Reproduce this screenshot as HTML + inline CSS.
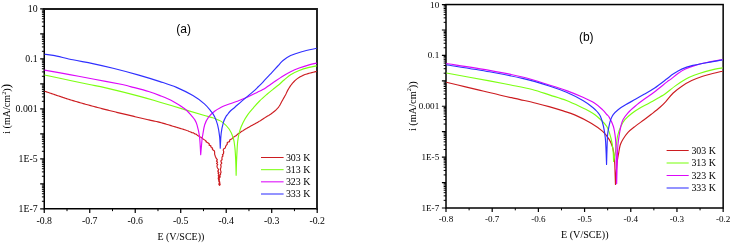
<!DOCTYPE html>
<html><head><meta charset="utf-8"><title>Polarization curves</title>
<style>html,body{margin:0;padding:0;background:#fff}svg{display:block}</style></head>
<body>
<svg width="731" height="243" viewBox="0 0 731 243">
<rect width="731" height="243" fill="#fff"/>
<g stroke="#000" stroke-width="1.5" fill="none" stroke-linecap="butt">
<path d="M44.25,8.10V208.8H317.95" stroke-linejoin="miter"/>
<path stroke="#1c1c1c" stroke-width="1.9" d="M43.50,9.05H317.00V209.55" stroke-linejoin="miter"/>
<path stroke-width="1.2" d="M40.15,8.85H44.25M40.15,33.84H44.25M40.15,58.84H44.25M40.15,83.83H44.25M40.15,108.83H44.25M40.15,133.82H44.25M40.15,158.81H44.25M40.15,183.81H44.25M40.15,208.80H44.25M44.25,208.8V212.90M89.74,208.8V212.90M135.23,208.8V212.90M180.72,208.8V212.90M226.22,208.8V212.90M271.71,208.8V212.90M317.20,208.8V212.90"/>
<path stroke-width="1.0" d="M41.90,26.32H44.25M41.90,21.92H44.25M41.90,18.80H44.25M41.90,16.37H44.25M41.90,14.39H44.25M41.90,12.72H44.25M41.90,11.27H44.25M41.90,9.99H44.25M41.90,51.31H44.25M41.90,46.91H44.25M41.90,43.79H44.25M41.90,41.37H44.25M41.90,39.39H44.25M41.90,37.72H44.25M41.90,36.27H44.25M41.90,34.99H44.25M41.90,76.31H44.25M41.90,71.91H44.25M41.90,68.78H44.25M41.90,66.36H44.25M41.90,64.38H44.25M41.90,62.71H44.25M41.90,61.26H44.25M41.90,59.98H44.25M41.90,101.30H44.25M41.90,96.90H44.25M41.90,93.78H44.25M41.90,91.36H44.25M41.90,89.38H44.25M41.90,87.70H44.25M41.90,86.25H44.25M41.90,84.97H44.25M41.90,126.29H44.25M41.90,121.89H44.25M41.90,118.77H44.25M41.90,116.35H44.25M41.90,114.37H44.25M41.90,112.70H44.25M41.90,111.25H44.25M41.90,109.97H44.25M41.90,151.29H44.25M41.90,146.89H44.25M41.90,143.76H44.25M41.90,141.34H44.25M41.90,139.36H44.25M41.90,137.69H44.25M41.90,136.24H44.25M41.90,134.96H44.25M41.90,176.28H44.25M41.90,171.88H44.25M41.90,168.76H44.25M41.90,166.34H44.25M41.90,164.36H44.25M41.90,162.68H44.25M41.90,161.23H44.25M41.90,159.96H44.25M41.90,201.28H44.25M41.90,196.87H44.25M41.90,193.75H44.25M41.90,191.33H44.25M41.90,189.35H44.25M41.90,187.68H44.25M41.90,186.23H44.25M41.90,184.95H44.25M67.00,208.8V211.15M112.49,208.8V211.15M157.98,208.8V211.15M203.47,208.8V211.15M248.96,208.8V211.15M294.45,208.8V211.15"/>
</g>
<g font-family="'Liberation Serif','Times New Roman',serif" font-size="9.8" fill="#000">
<text x="37.60" y="12.08" text-anchor="end">10</text>
<text x="37.60" y="62.07" text-anchor="end">0.1</text>
<text x="37.60" y="112.06" text-anchor="end">0.001</text>
<text x="37.60" y="162.05" text-anchor="end">1E-5</text>
<text x="37.60" y="212.03" text-anchor="end">1E-7</text>
<text x="44.25" y="223.50" text-anchor="middle">-0.8</text>
<text x="89.74" y="223.50" text-anchor="middle">-0.7</text>
<text x="135.23" y="223.50" text-anchor="middle">-0.6</text>
<text x="180.72" y="223.50" text-anchor="middle">-0.5</text>
<text x="226.22" y="223.50" text-anchor="middle">-0.4</text>
<text x="271.71" y="223.50" text-anchor="middle">-0.3</text>
<text x="317.20" y="223.50" text-anchor="middle">-0.2</text>
</g>
<g font-family="'Liberation Serif','Times New Roman',serif" font-size="10" fill="#000">
<text x="157.40" y="240.20">E (V/SCE))</text>
<text transform="translate(10.40,108.90) rotate(-90)" text-anchor="middle" font-size="10.1">i (mA/cm<tspan font-size="6.26" dy="-4.24">2</tspan><tspan dy="4.24">)</tspan><tspan font-size="13">)</tspan></text>
</g>
<g fill="none" stroke-width="1.15" stroke-linejoin="round" stroke-linecap="butt">
<path stroke="#cc1c20" d="M44.50,91.20L45.51,91.54L46.53,91.88L47.54,92.23L48.58,92.58L49.62,92.94L50.66,93.30L51.70,93.65L52.69,93.99L53.68,94.33L54.66,94.66L55.65,95.00L56.64,95.34L57.72,95.70L58.81,96.06L59.89,96.42L60.97,96.79L62.05,97.15L63.15,97.51L64.26,97.87L65.37,98.23L66.47,98.59L67.58,98.95L68.64,99.28L69.71,99.61L70.77,99.94L71.84,100.27L72.90,100.60L73.93,100.90L74.95,101.21L75.98,101.51L77.00,101.81L78.03,102.11L79.07,102.41L80.11,102.71L81.15,103.00L82.19,103.30L83.23,103.60L84.29,103.89L85.36,104.19L86.42,104.48L87.49,104.77L88.55,105.07L89.65,105.36L90.75,105.66L91.85,105.96L92.95,106.25L94.05,106.55L95.20,106.85L96.34,107.15L97.49,107.45L98.64,107.75L99.78,108.05L100.79,108.31L101.79,108.57L102.79,108.83L103.79,109.08L104.80,109.34L105.80,109.60L106.92,109.88L108.04,110.16L109.16,110.44L110.28,110.72L111.39,111.00L112.51,111.28L113.58,111.54L114.64,111.80L115.71,112.06L116.77,112.32L117.83,112.57L118.90,112.83L119.96,113.09L121.06,113.36L122.16,113.62L123.25,113.88L124.35,114.14L125.45,114.41L126.55,114.67L127.64,114.93L128.70,115.18L129.76,115.43L130.82,115.68L131.87,115.93L132.93,116.18L133.99,116.43L135.05,116.69L136.15,116.95L137.26,117.21L138.36,117.46L139.46,117.72L140.57,117.98L141.67,118.24L142.74,118.50L143.80,118.75L144.87,119.00L145.93,119.25L147.00,119.50L147.94,119.72L148.88,119.93L149.82,120.15L150.76,120.37L152.03,120.64L153.29,120.91L154.17,121.09L155.04,121.26L156.45,121.54L157.96,121.88L158.98,122.14L160.00,122.40L161.29,122.75L162.59,123.11L163.51,123.38L164.44,123.64L165.37,123.91L166.33,124.20L167.28,124.48L168.24,124.77L169.20,125.06L170.16,125.35L171.12,125.64L172.05,125.93L172.98,126.22L173.91,126.50L175.20,126.90L176.50,127.30L177.71,127.67L178.92,128.03L180.08,128.38L181.24,128.73L182.35,129.06L183.46,129.40L184.53,129.74L185.60,130.07L186.59,130.44L187.92,130.75L188.63,131.17L189.38,131.50L190.62,132.00L191.16,132.17L192.02,132.78L193.35,132.81L194.40,133.63L194.98,133.86L195.37,133.97L196.47,134.39L196.95,134.91L197.57,135.46L198.69,136.12L199.52,136.48L200.25,137.00L200.96,137.28L202.23,138.25L202.82,138.62L203.00,138.90L203.68,139.36L204.88,140.14L205.65,140.71L206.43,141.59L205.95,141.71L208.20,142.98L209.35,143.94L209.11,145.09L210.88,145.75L210.70,146.76L212.67,148.14L212.13,148.77L212.75,149.74L214.45,151.03L214.65,152.51L214.61,154.05L215.00,155.31L215.41,156.53L215.93,157.89L217.40,159.95L216.50,160.84L216.48,161.21L217.58,162.28L216.54,163.45L216.82,163.64L217.79,164.57L217.17,165.22L216.97,166.58L217.32,167.53L217.64,168.33L218.67,169.35L218.19,170.71L217.70,171.07L218.94,172.70L218.03,173.12L218.89,174.82L218.15,175.77L219.31,176.40L218.69,176.78L218.19,178.43L218.66,179.75L218.83,181.34L219.48,182.23L218.94,183.84L218.87,184.39L219.60,185.40L219.60,185.40L220.23,184.26L219.79,183.56L219.73,182.08L219.26,180.99L219.38,179.51L219.17,177.62L220.28,177.07L220.04,176.50L219.88,174.91L220.61,174.43L220.50,173.44L221.06,172.18L220.83,171.16L220.63,170.40L220.33,168.88L220.67,168.48L220.94,167.34L221.12,166.21L220.61,164.74L221.80,163.14L220.94,161.65L221.05,160.49L222.10,159.72L221.94,158.08L222.08,156.85L223.02,155.97L222.41,154.52L223.41,154.08L223.68,152.69L223.47,152.39L223.76,151.53L223.30,150.74L223.34,149.45L223.56,149.03L224.85,148.36L225.43,147.48L225.56,146.58L226.42,145.11L227.34,144.16L227.08,142.95L228.20,142.06L229.59,141.61L229.71,140.09L231.02,139.22L232.08,138.69L232.92,137.52L234.75,136.57L234.90,136.31L235.98,135.81L236.57,135.04L237.28,134.73L237.99,133.90L238.47,133.45L239.64,132.98L240.27,132.55L240.81,131.91L241.82,131.32L243.05,130.63L244.01,130.00L244.70,129.59L245.45,129.02L246.64,128.39L247.68,127.78L248.83,127.13L249.98,126.49L251.17,125.83L252.37,125.17L253.55,124.53L254.72,123.89L255.82,123.28L256.91,122.68L257.85,122.14L258.80,121.60L259.59,121.12L260.38,120.65L261.76,119.78L262.97,118.99L264.05,118.27L265.05,117.61L266.00,117.00L266.85,116.49L267.54,116.11L268.16,115.78L268.74,115.46L269.37,115.08L270.10,114.60L270.96,113.99L271.90,113.31L272.88,112.57L273.85,111.80L274.77,111.04L275.60,110.30L276.33,109.60L276.99,108.91L277.60,108.23L278.18,107.53L278.74,106.79L279.30,106.00L279.85,105.14L280.38,104.23L280.89,103.27L281.39,102.31L281.89,101.34L282.40,100.40L282.92,99.48L283.45,98.55L283.98,97.63L284.50,96.71L285.01,95.80L285.50,94.90L285.95,94.01L286.36,93.13L286.76,92.25L287.17,91.37L287.61,90.49L288.10,89.60L288.64,88.69L289.21,87.76L289.81,86.83L290.44,85.90L291.10,84.99L291.80,84.10L292.53,83.22L293.30,82.35L294.09,81.49L294.93,80.65L295.79,79.85L296.70,79.10L297.66,78.39L298.67,77.71L299.72,77.07L300.79,76.47L301.85,75.91L302.90,75.40L303.92,74.96L304.91,74.57L305.91,74.24L306.93,73.93L307.99,73.62L309.10,73.30L310.37,72.95L311.81,72.58L313.29,72.22L314.68,71.89L315.86,71.60L316.70,71.40"/>
<path stroke="#7cff12" d="M44.50,75.00C48.42,75.83 60.52,78.42 68.00,80.00C75.48,81.58 83.10,83.18 89.40,84.50C95.70,85.82 97.57,85.97 105.80,87.90C114.03,89.83 129.77,93.72 138.80,96.10C147.83,98.48 152.35,99.95 160.00,102.20C167.65,104.45 177.57,107.47 184.70,109.60C191.83,111.73 198.13,113.65 202.80,115.00C207.47,116.35 210.33,116.95 212.70,117.70C215.07,118.45 215.35,118.72 217.00,119.50C218.65,120.28 220.58,120.82 222.60,122.40C224.62,123.98 227.32,126.40 229.10,129.00C230.88,131.60 232.33,134.85 233.30,138.00C234.27,141.15 234.50,144.23 234.90,147.90C235.30,151.57 235.49,155.43 235.70,160.00C235.91,164.57 236.07,172.75 236.15,175.30C236.22,172.75 236.34,165.67 236.60,160.00C236.86,154.33 237.17,146.20 237.70,141.30C238.23,136.40 238.90,133.75 239.80,130.60C240.70,127.45 241.77,125.07 243.10,122.40C244.43,119.73 246.08,117.03 247.80,114.60C249.52,112.17 251.43,110.07 253.40,107.80C255.37,105.53 257.33,103.25 259.60,101.00C261.87,98.75 264.82,96.20 267.00,94.30C269.18,92.40 270.83,91.10 272.70,89.60C274.57,88.10 276.25,86.93 278.20,85.30C280.15,83.67 282.33,81.55 284.40,79.80C286.47,78.05 288.13,76.35 290.60,74.80C293.07,73.25 296.12,71.73 299.20,70.50C302.28,69.27 306.18,68.17 309.10,67.40C312.02,66.63 315.43,66.15 316.70,65.90"/>
<path stroke="#dc08fa" d="M44.50,70.10C48.68,70.85 61.30,73.08 69.60,74.60C77.90,76.12 85.52,77.55 94.30,79.20C103.08,80.85 116.27,83.27 122.30,84.50C128.33,85.73 126.12,85.43 130.50,86.60C134.88,87.77 143.68,90.00 148.60,91.50C153.52,93.00 155.90,93.95 160.00,95.60C164.10,97.25 169.08,99.20 173.20,101.40C177.32,103.60 181.68,106.47 184.70,108.80C187.72,111.13 189.65,113.62 191.30,115.40C192.95,117.18 193.65,117.92 194.60,119.50C195.55,121.08 196.18,122.08 197.00,124.90C197.82,127.72 198.88,131.45 199.50,136.40C200.12,141.35 200.50,151.57 200.70,154.60C200.92,152.17 201.65,143.33 202.00,140.00C202.35,136.67 202.35,137.14 202.80,134.60C203.25,132.06 203.77,127.63 204.70,124.75C205.63,121.87 206.75,119.56 208.40,117.30C210.05,115.04 212.55,112.83 214.60,111.20C216.65,109.57 218.72,108.53 220.70,107.50C222.68,106.47 223.73,106.05 226.50,105.00C229.27,103.95 233.85,102.48 237.30,101.20C240.75,99.92 243.90,98.77 247.20,97.30C250.50,95.83 254.50,93.68 257.10,92.40C259.70,91.12 260.32,91.08 262.80,89.60C265.28,88.12 268.82,85.65 272.00,83.50C275.18,81.35 278.80,78.67 281.90,76.70C285.00,74.73 287.72,73.15 290.60,71.70C293.48,70.25 296.12,69.13 299.20,68.00C302.28,66.87 306.18,65.72 309.10,64.90C312.02,64.08 315.43,63.40 316.70,63.10"/>
<path stroke="#3030ff" d="M44.50,54.30C45.95,54.48 48.47,54.48 53.20,55.40C57.93,56.32 66.32,58.43 72.90,59.80C79.48,61.17 85.83,62.15 92.70,63.60C99.57,65.05 106.42,66.58 114.10,68.50C121.78,70.42 131.15,72.92 138.80,75.10C146.45,77.28 153.72,79.55 160.00,81.60C166.28,83.65 171.02,85.07 176.50,87.40C181.98,89.73 188.25,92.85 192.90,95.60C197.55,98.35 201.38,101.28 204.40,103.90C207.42,106.52 209.32,109.20 211.00,111.30C212.68,113.40 213.40,114.23 214.50,116.50C215.60,118.77 216.75,121.58 217.60,124.90C218.45,128.22 219.16,132.53 219.60,136.40C220.04,140.27 220.14,146.15 220.25,148.10C220.41,145.60 220.67,137.38 221.20,133.10C221.72,128.82 222.60,125.17 223.40,122.40C224.20,119.63 225.32,117.80 226.00,116.50C226.68,115.20 226.85,115.43 227.50,114.60C228.15,113.77 228.67,112.73 229.90,111.50C231.13,110.27 232.42,109.35 234.90,107.20C237.38,105.05 241.72,101.23 244.80,98.60C247.88,95.97 251.12,93.42 253.40,91.40C255.68,89.38 256.83,88.13 258.50,86.50C260.17,84.87 261.15,83.97 263.40,81.60C265.65,79.23 270.15,74.30 272.00,72.30C273.85,70.30 273.27,70.93 274.50,69.60C275.73,68.27 277.98,65.82 279.40,64.30C280.82,62.78 281.13,61.95 283.00,60.50C284.87,59.05 287.48,57.07 290.60,55.60C293.72,54.13 297.35,52.92 301.70,51.70C306.05,50.48 314.20,48.87 316.70,48.30"/>
</g>
<g stroke-width="1.05" fill="none">
<path stroke="#cc1c20" d="M261.0,157.5H283.6"/>
<path stroke="#7cff12" d="M261.0,169.67H283.6"/>
<path stroke="#dc08fa" d="M261.0,181.83H283.6"/>
<path stroke="#3030ff" d="M261.0,194.0H283.6"/>
</g>
<g font-family="'Liberation Serif','Times New Roman',serif" font-size="9.9" fill="#000">
<text x="285.9" y="160.77">303 K</text>
<text x="285.9" y="172.94">313 K</text>
<text x="285.9" y="185.10">323 K</text>
<text x="285.9" y="197.27">333 K</text>
</g>
<text x="176.3" y="32.6" font-family="'Liberation Sans',Arial,sans-serif" font-size="12" fill="#000">(a)</text>
<g stroke="#000" stroke-width="1.5" fill="none" stroke-linecap="butt">
<rect x="446.0" y="4.55" width="277.15" height="203.45"/>
<path stroke-width="1.2" d="M441.90,4.55H446.0M441.90,29.98H446.0M441.90,55.41H446.0M441.90,80.84H446.0M441.90,106.27H446.0M441.90,131.71H446.0M441.90,157.14H446.0M441.90,182.57H446.0M441.90,208.00H446.0M446.00,208.0V212.10M492.19,208.0V212.10M538.38,208.0V212.10M584.58,208.0V212.10M630.77,208.0V212.10M676.96,208.0V212.10M723.15,208.0V212.10"/>
<path stroke-width="1.0" d="M443.65,22.33H446.0M443.65,17.85H446.0M443.65,14.67H446.0M443.65,12.21H446.0M443.65,10.19H446.0M443.65,8.49H446.0M443.65,7.01H446.0M443.65,5.71H446.0M443.65,47.76H446.0M443.65,43.28H446.0M443.65,40.10H446.0M443.65,37.64H446.0M443.65,35.62H446.0M443.65,33.92H446.0M443.65,32.45H446.0M443.65,31.14H446.0M443.65,73.19H446.0M443.65,68.71H446.0M443.65,65.53H446.0M443.65,63.07H446.0M443.65,61.05H446.0M443.65,59.35H446.0M443.65,57.88H446.0M443.65,56.58H446.0M443.65,98.62H446.0M443.65,94.14H446.0M443.65,90.96H446.0M443.65,88.50H446.0M443.65,86.49H446.0M443.65,84.78H446.0M443.65,83.31H446.0M443.65,82.01H446.0M443.65,124.05H446.0M443.65,119.57H446.0M443.65,116.40H446.0M443.65,113.93H446.0M443.65,111.92H446.0M443.65,110.21H446.0M443.65,108.74H446.0M443.65,107.44H446.0M443.65,149.48H446.0M443.65,145.00H446.0M443.65,141.83H446.0M443.65,139.36H446.0M443.65,137.35H446.0M443.65,135.65H446.0M443.65,134.17H446.0M443.65,132.87H446.0M443.65,174.91H446.0M443.65,170.43H446.0M443.65,167.26H446.0M443.65,164.79H446.0M443.65,162.78H446.0M443.65,161.08H446.0M443.65,159.60H446.0M443.65,158.30H446.0M443.65,200.34H446.0M443.65,195.87H446.0M443.65,192.69H446.0M443.65,190.22H446.0M443.65,188.21H446.0M443.65,186.51H446.0M443.65,185.03H446.0M443.65,183.73H446.0M469.10,208.0V210.35M515.29,208.0V210.35M561.48,208.0V210.35M607.67,208.0V210.35M653.86,208.0V210.35M700.05,208.0V210.35"/>
</g>
<g font-family="'Liberation Serif','Times New Roman',serif" font-size="9.1" fill="#000">
<text x="439.20" y="7.55" text-anchor="end">10</text>
<text x="439.20" y="58.42" text-anchor="end">0.1</text>
<text x="439.20" y="109.28" text-anchor="end">0.001</text>
<text x="439.20" y="160.14" text-anchor="end">1E-5</text>
<text x="439.20" y="211.00" text-anchor="end">1E-7</text>
<text x="446.00" y="222.40" text-anchor="middle">-0.8</text>
<text x="492.19" y="222.40" text-anchor="middle">-0.7</text>
<text x="538.38" y="222.40" text-anchor="middle">-0.6</text>
<text x="584.58" y="222.40" text-anchor="middle">-0.5</text>
<text x="630.77" y="222.40" text-anchor="middle">-0.4</text>
<text x="676.96" y="222.40" text-anchor="middle">-0.3</text>
<text x="723.15" y="222.40" text-anchor="middle">-0.2</text>
</g>
<g font-family="'Liberation Serif','Times New Roman',serif" font-size="10.15" fill="#000">
<text x="561.00" y="238.30">E (V/SCE))</text>
<text transform="translate(415.60,106.20) rotate(-90)" text-anchor="middle" font-size="10.3">i (mA/cm<tspan font-size="6.39" dy="-4.33">2</tspan><tspan dy="4.33">)</tspan><tspan font-size="10.3">)</tspan></text>
</g>
<g fill="none" stroke-width="1.15" stroke-linejoin="round" stroke-linecap="butt">
<path stroke="#cc1c20" d="M446.30,82.20C449.33,82.93 458.38,85.13 464.50,86.60C470.62,88.07 476.82,89.52 483.00,91.00C489.18,92.48 495.42,94.07 501.60,95.50C507.78,96.93 514.37,98.32 520.10,99.60C525.83,100.88 531.18,102.03 536.00,103.20C540.82,104.37 544.47,105.32 549.00,106.60C553.53,107.88 558.92,109.52 563.20,110.90C567.48,112.28 570.03,112.85 574.70,114.90C579.37,116.95 586.53,120.45 591.20,123.20C595.87,125.95 599.68,128.67 602.70,131.40C605.72,134.13 607.67,137.00 609.30,139.60C610.93,142.20 611.72,144.43 612.50,147.00C613.28,149.57 613.62,152.00 614.00,155.00C614.38,158.00 614.56,160.08 614.80,165.00C615.04,169.92 615.34,181.25 615.45,184.50C615.64,181.75 616.26,172.12 616.60,168.00C616.94,163.88 617.13,162.37 617.50,159.75C617.87,157.13 618.33,154.81 618.80,152.30C619.27,149.79 619.60,146.88 620.30,144.70C621.00,142.52 621.72,141.27 623.00,139.20C624.28,137.13 625.93,134.48 628.00,132.30C630.07,130.12 632.72,128.18 635.40,126.10C638.08,124.02 641.45,121.77 644.10,119.80C646.75,117.83 648.65,116.38 651.30,114.30C653.95,112.22 657.58,109.42 660.00,107.30C662.42,105.18 663.60,103.98 665.80,101.60C668.00,99.22 670.52,95.57 673.20,93.00C675.88,90.43 678.82,88.27 681.90,86.20C684.98,84.13 688.23,82.27 691.70,80.60C695.17,78.93 699.22,77.38 702.70,76.20C706.18,75.02 709.28,74.33 712.60,73.50C715.92,72.67 720.93,71.58 722.60,71.20"/>
<path stroke="#7cff12" d="M446.30,73.00C453.48,74.32 478.65,78.90 489.40,80.90C500.15,82.90 503.67,83.57 510.80,85.00C517.93,86.43 525.67,87.82 532.20,89.50C538.73,91.18 544.28,93.27 550.00,95.10C555.72,96.93 561.02,98.37 566.50,100.50C571.98,102.63 579.15,106.15 582.90,107.90C586.65,109.65 586.93,109.82 589.00,111.00C591.07,112.18 593.57,113.75 595.30,115.00C597.03,116.25 597.48,116.58 599.40,118.50C601.32,120.42 604.88,123.25 606.80,126.50C608.72,129.75 609.87,134.17 610.90,138.00C611.93,141.83 612.55,145.58 613.00,149.50C613.45,153.42 613.50,159.50 613.60,161.50C613.97,159.50 615.15,153.70 615.80,149.50C616.45,145.30 616.67,140.13 617.50,136.30C618.33,132.47 619.57,129.28 620.80,126.50C622.03,123.72 623.08,121.77 624.90,119.60C626.72,117.43 629.33,115.35 631.70,113.50C634.07,111.65 636.22,110.22 639.10,108.50C641.98,106.78 645.52,105.13 649.00,103.20C652.48,101.27 657.40,98.40 660.00,96.90C662.60,95.40 661.98,96.08 664.60,94.20C667.22,92.32 672.22,88.10 675.70,85.60C679.18,83.10 682.43,80.92 685.50,79.20C688.57,77.48 690.82,76.57 694.10,75.30C697.38,74.03 701.70,72.63 705.20,71.60C708.70,70.57 712.20,69.72 715.10,69.10C718.00,68.48 721.35,68.10 722.60,67.90"/>
<path stroke="#dc08fa" d="M446.30,63.50C453.48,64.65 476.73,68.15 489.40,70.40C502.07,72.65 512.20,74.53 522.30,77.00C532.40,79.47 542.63,82.93 550.00,85.20C557.37,87.47 561.02,88.60 566.50,90.60C571.98,92.60 578.25,95.13 582.90,97.20C587.55,99.27 591.10,100.90 594.40,103.00C597.70,105.10 600.63,107.88 602.70,109.80C604.77,111.72 605.70,113.23 606.80,114.50C607.90,115.77 608.20,115.40 609.30,117.40C610.40,119.40 612.38,123.07 613.40,126.50C614.42,129.93 614.97,134.08 615.40,138.00C615.83,141.92 615.79,142.38 616.00,150.00C616.21,157.62 616.54,178.08 616.65,183.70C616.81,178.08 617.24,157.62 617.60,150.00C617.96,142.38 618.27,141.92 618.80,138.00C619.33,134.08 620.08,129.57 620.80,126.50C621.52,123.43 621.90,121.88 623.10,119.60C624.30,117.32 625.95,115.07 628.00,112.80C630.05,110.53 632.72,108.25 635.40,106.00C638.08,103.75 640.88,101.67 644.10,99.30C647.32,96.92 650.88,94.65 654.70,91.75C658.52,88.85 664.35,83.96 667.00,81.90C669.65,79.84 668.77,80.80 670.60,79.40C672.43,78.00 675.53,75.22 678.00,73.50C680.47,71.78 682.52,70.45 685.40,69.10C688.28,67.75 691.58,66.53 695.30,65.40C699.02,64.27 703.15,63.28 707.70,62.30C712.25,61.32 720.12,59.97 722.60,59.50"/>
<path stroke="#3030ff" d="M446.30,64.80C453.48,65.97 476.73,69.53 489.40,71.80C502.07,74.07 512.20,76.00 522.30,78.40C532.40,80.80 542.63,83.88 550.00,86.20C557.37,88.52 561.02,89.92 566.50,92.30C571.98,94.68 578.52,97.97 582.90,100.50C587.28,103.03 590.45,105.67 592.80,107.50C595.15,109.33 595.72,109.98 597.00,111.50C598.28,113.02 599.42,114.10 600.50,116.60C601.58,119.10 602.70,122.93 603.50,126.50C604.30,130.07 604.88,134.17 605.30,138.00C605.72,141.83 605.79,145.10 606.00,149.50C606.21,153.90 606.46,161.92 606.55,164.40C606.62,161.92 606.83,154.45 607.00,149.50C607.17,144.55 607.22,138.82 607.60,134.70C607.98,130.58 608.78,127.32 609.30,124.80C609.82,122.28 610.05,121.28 610.70,119.60C611.35,117.92 611.97,116.34 613.20,114.70C614.43,113.06 616.03,111.40 618.10,109.75C620.17,108.10 622.72,106.54 625.60,104.80C628.48,103.06 632.32,101.05 635.40,99.30C638.48,97.55 640.88,96.18 644.10,94.30C647.32,92.42 650.88,90.58 654.70,88.00C658.52,85.42 663.93,81.12 667.00,78.80C670.07,76.48 670.65,75.72 673.10,74.10C675.55,72.48 678.40,70.55 681.70,69.10C685.00,67.65 688.98,66.42 692.90,65.40C696.82,64.38 700.25,63.92 705.20,63.00C710.15,62.08 719.70,60.42 722.60,59.90"/>
</g>
<g stroke-width="1.05" fill="none">
<path stroke="#cc1c20" d="M666.6,150.5H688.7"/>
<path stroke="#7cff12" d="M666.6,163.0H688.7"/>
<path stroke="#dc08fa" d="M666.6,175.5H688.7"/>
<path stroke="#3030ff" d="M666.6,188.0H688.7"/>
</g>
<g font-family="'Liberation Serif','Times New Roman',serif" font-size="9.9" fill="#000">
<text x="691.4" y="153.77">303 K</text>
<text x="691.4" y="166.27">313 K</text>
<text x="691.4" y="178.77">323 K</text>
<text x="691.4" y="191.27">333 K</text>
</g>
<text x="578.9" y="40.6" font-family="'Liberation Sans',Arial,sans-serif" font-size="12" fill="#000">(b)</text>
</svg>
</body></html>
